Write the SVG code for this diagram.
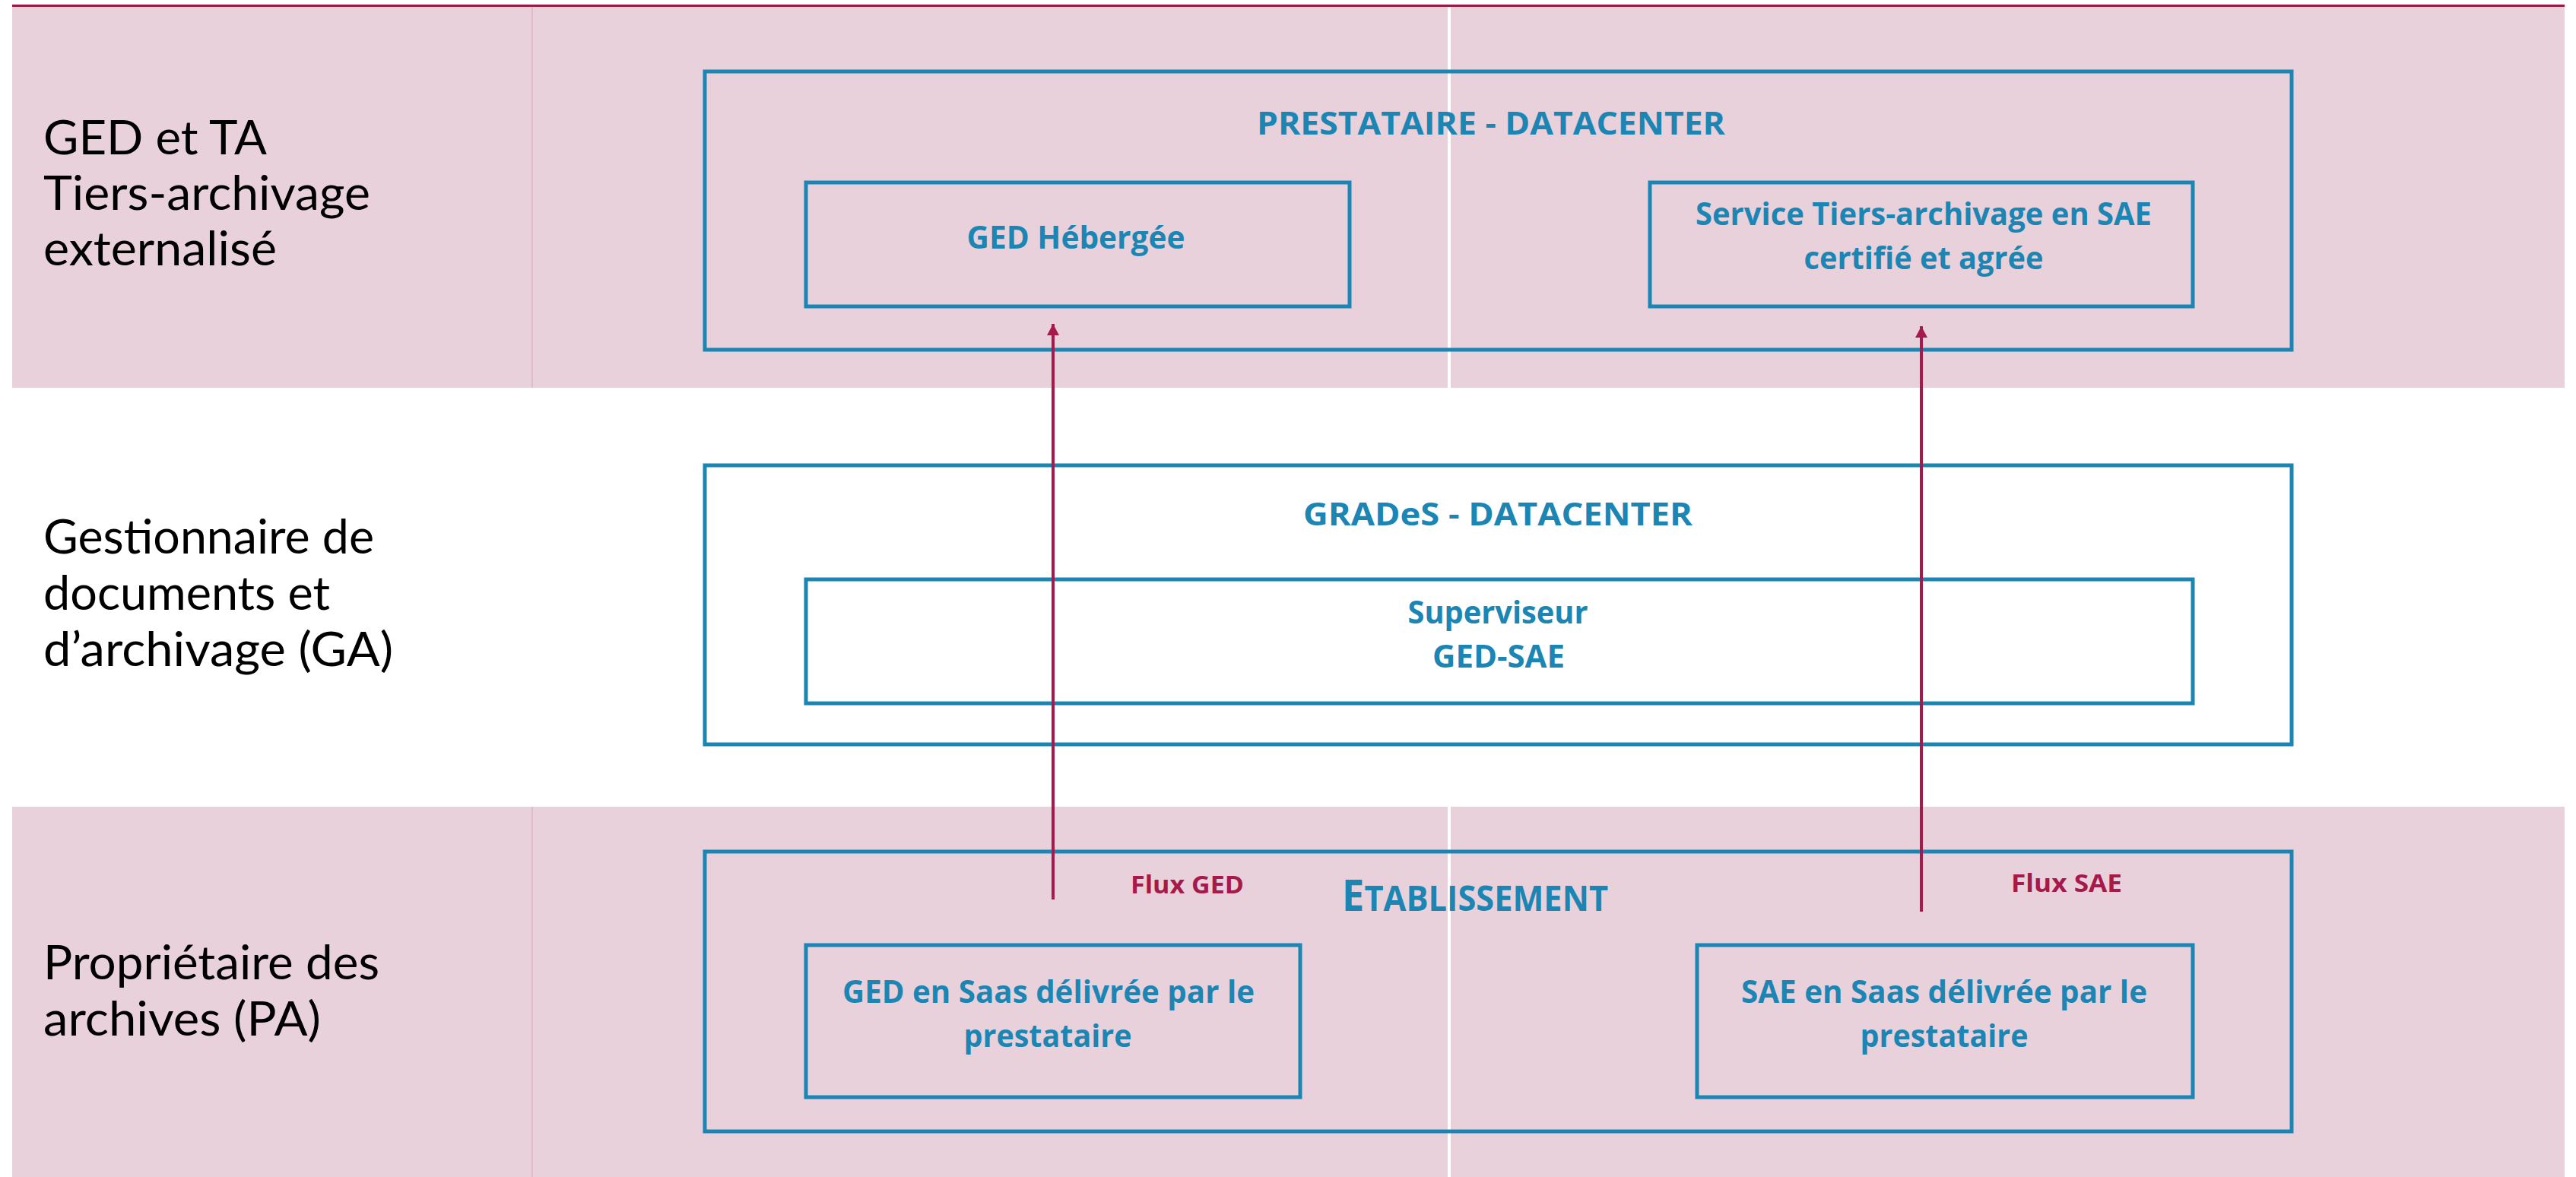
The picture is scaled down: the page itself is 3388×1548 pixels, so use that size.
<svg xmlns="http://www.w3.org/2000/svg" width="3388" height="1548" viewBox="0 0 3388 1548">
<style>
.band{fill:#E8D1DA}
.box{fill:none;stroke:#1B85B4;stroke-width:5}
.t{font-family:"Open Sans","Noto Sans",sans-serif;font-weight:700;fill:#1B85B4;text-anchor:middle}
.lbl{font-family:Lato,"Liberation Sans",sans-serif;font-size:62px;fill:#000}
.flux{font-family:"Open Sans","Noto Sans",sans-serif;font-weight:700;fill:#A6194A;font-size:32px}
.conn{stroke:#A6194A;stroke-width:4;fill:none}
</style>
<defs>
<marker id="arr" markerUnits="userSpaceOnUse" markerWidth="16" markerHeight="16" refX="15" refY="8" orient="auto">
<path d="M0,0 L15,8 L0,16 Z" fill="#A6194A"/>
</marker>
</defs>
<rect width="3388" height="1548" fill="#fff"/>
<g id="bands">
<rect class="band" x="16" y="9" width="3357" height="501"/>
<rect class="band" x="16" y="1061" width="3357" height="487"/>
<line x1="16" y1="7.5" x2="3373" y2="7.5" stroke="#9A1942" stroke-width="3"/>
<line x1="700" y1="9" x2="700" y2="510" stroke="#DDB2C3" stroke-width="1.5"/>
<line x1="700" y1="1061" x2="700" y2="1548" stroke="#DDB2C3" stroke-width="1.5"/>
<line x1="1906" y1="9" x2="1906" y2="510" stroke="#fff" stroke-width="4"/>
<line x1="1906" y1="1061" x2="1906" y2="1548" stroke="#fff" stroke-width="4"/>
</g>
<g id="lane-labels">
<text class="lbl" x="57" y="203" textLength="294" lengthAdjust="spacingAndGlyphs">GED et TA</text>
<text class="lbl" x="57" y="276" textLength="430" lengthAdjust="spacingAndGlyphs">Tiers-archivage</text>
<text class="lbl" x="57" y="349" textLength="307" lengthAdjust="spacingAndGlyphs">externalisé</text>
<text class="lbl" x="57" y="728" textLength="435" lengthAdjust="spacingAndGlyphs">Gestionnaire de</text>
<text class="lbl" x="57" y="802" textLength="377" lengthAdjust="spacingAndGlyphs">documents et</text>
<text class="lbl" x="57" y="876" textLength="460" lengthAdjust="spacingAndGlyphs">d’archivage (GA)</text>
<text class="lbl" x="57" y="1288" textLength="442" lengthAdjust="spacingAndGlyphs">Propriétaire des</text>
<text class="lbl" x="57" y="1362" textLength="365" lengthAdjust="spacingAndGlyphs">archives (PA)</text>
</g>
<g id="prestataire">
<rect class="box" x="927" y="94" width="2087" height="366"/>
<text class="t" x="1961" y="177" font-size="42" textLength="616" lengthAdjust="spacingAndGlyphs">PRESTATAIRE - DATACENTER</text>
</g>
<g id="ged-hebergee">
<rect class="box" x="1060" y="240" width="715" height="163"/>
<text class="t" x="1415" y="327" font-size="42" textLength="287" lengthAdjust="spacingAndGlyphs">GED Hébergée</text>
</g>
<g id="service-ta">
<rect class="box" x="2170" y="240" width="714" height="163"/>
<text class="t" x="2530" y="296" font-size="42" textLength="600" lengthAdjust="spacingAndGlyphs">Service Tiers-archivage en SAE</text>
<text class="t" x="2530" y="354" font-size="42" textLength="315" lengthAdjust="spacingAndGlyphs">certifié et agrée</text>
</g>
<g id="grades">
<rect class="box" x="927" y="612" width="2087" height="367"/>
<text class="t" x="1970" y="691" font-size="42" textLength="512" lengthAdjust="spacingAndGlyphs">GRADeS - DATACENTER</text>
</g>
<g id="superviseur">
<rect class="box" x="1060" y="762" width="1824" height="163"/>
<text class="t" x="1970" y="820" font-size="42" textLength="237" lengthAdjust="spacingAndGlyphs">Superviseur</text>
<text class="t" x="1971" y="878" font-size="42" textLength="174" lengthAdjust="spacingAndGlyphs">GED-SAE</text>
</g>
<g id="etablissement">
<rect class="box" x="927" y="1120" width="2087" height="368"/>
<text class="t" x="1940" y="1198" font-size="47" textLength="350" lengthAdjust="spacingAndGlyphs"><tspan font-size="57">E</tspan>TABLISSEMENT</text>
</g>
<g id="ged-saas">
<rect class="box" x="1060" y="1243" width="650" height="200"/>
<text class="t" x="1379" y="1319" font-size="42" textLength="542" lengthAdjust="spacingAndGlyphs">GED en Saas délivrée par le</text>
<text class="t" x="1378" y="1377" font-size="42" textLength="221" lengthAdjust="spacingAndGlyphs">prestataire</text>
</g>
<g id="sae-saas">
<rect class="box" x="2232" y="1243" width="652" height="200"/>
<text class="t" x="2557" y="1319" font-size="42" textLength="534" lengthAdjust="spacingAndGlyphs">SAE en Saas délivrée par le</text>
<text class="t" x="2557" y="1377" font-size="42" textLength="221" lengthAdjust="spacingAndGlyphs">prestataire</text>
</g>
<g id="connectors">
<line class="conn" x1="1385" y1="1183" x2="1385" y2="426" marker-end="url(#arr)"/>
<line class="conn" x1="2527" y1="1199" x2="2527" y2="429" marker-end="url(#arr)"/>
<text class="flux" x="1487" y="1175" textLength="149" lengthAdjust="spacingAndGlyphs">Flux GED</text>
<text class="flux" x="2645" y="1173" textLength="146" lengthAdjust="spacingAndGlyphs">Flux SAE</text>
</g>
</svg>
